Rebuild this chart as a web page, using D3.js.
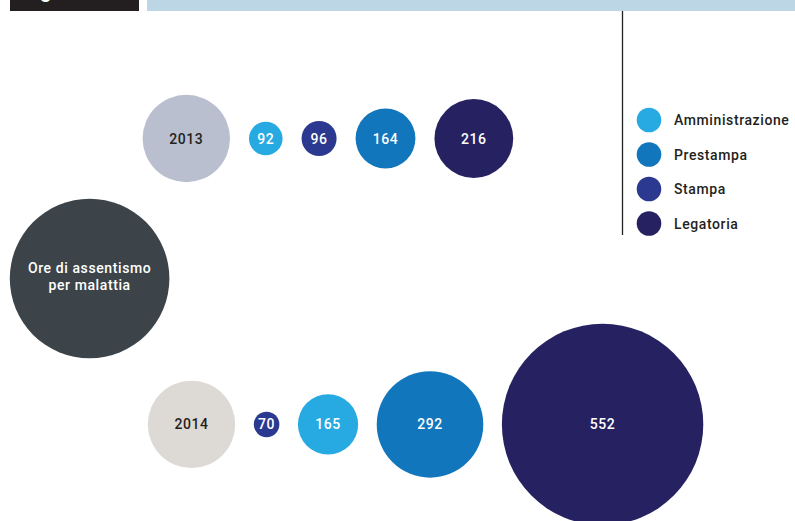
<!DOCTYPE html>
<html>
<head>
<meta charset="utf-8">
<script src="https://cdn.jsdelivr.net/npm/d3@7"></script>
<style>
  body { margin: 0; background: #fff; }
  svg { display: block; font-family: Roboto, "Noto Sans", sans-serif; }
  .lbl { letter-spacing: 0.6px; }
</style>
</head>
<body>
<div class="chart"></div>
<script>
// data
var reparti = ["Amministrazione", "Prestampa", "Stampa", "Legatoria"];
var coloriReparti = ["#27aae1", "#1176bc", "#2b3990", "#262262"];
var anni = ["2013", "2014"];
var ore2013 = [92, 164, 96, 216];   // same order as reparti
var ore2014 = [165, 292, 70, 552];
var titolo = ["Ore di assentismo", "per malattia"];

var svgWidth = 795;
var svgHeight = 521;

var svg = d3.select(".chart")
  .append("svg")
  .attr("width", svgWidth)
  .attr("height", svgHeight);

// header strip (cut off at top of the page)
svg.append("defs").append("clipPath").attr("id", "clipHead")
  .append("rect").attr("x", 10).attr("y", 0).attr("width", 129).attr("height", 11);
svg.append("rect").attr("x", 10).attr("y", 0).attr("width", 129).attr("height", 11).attr("fill", "#231f20");
svg.append("text")
  .attr("clip-path", "url(#clipHead)")
  .attr("x", 24).attr("y", -2)
  .attr("font-size", 20).attr("font-weight", 500)
  .attr("fill", "#fff")
  .text("Figura");
svg.append("rect").attr("x", 147).attr("y", 0).attr("width", svgWidth - 147).attr("height", 11).attr("fill", "#bcd6e6");

// vertical rule next to legend
svg.append("line")
  .attr("x1", 622.5).attr("x2", 622.5)
  .attr("y1", 11).attr("y2", 235)
  .attr("stroke", "#231f20").attr("stroke-width", 1.3);

// radius is linear in the value
var rScale = d3.scaleLinear()
  .domain([0, d3.max(ore2014)])
  .range([0, 100.7]);

var color = d3.scaleOrdinal().domain(reparti).range(coloriReparti);

// big title circle
var title = svg.append("g").attr("transform", "translate(89.6,278.5)");
title.append("circle").attr("r", 79.8).attr("fill", "#3c4449");
title.selectAll("text")
  .data(titolo)
  .enter()
  .append("text")
  .attr("class", "lbl")
  .attr("text-anchor", "middle")
  .attr("y", function(d, i) { return -6 + i * 17; })
  .attr("font-size", 14).attr("font-weight", 500)
  .attr("fill", "#fff")
  .text(function(d) { return d; });

var rows = [
  { anno: anni[0], valori: ore2013, cx: 186.3, cy: 138.5, fill: "#b9bfcf", gap: 19 },
  { anno: anni[1], valori: ore2014, cx: 191.5, cy: 424.4, fill: "#ddd9d4", gap: 18.6 }
];
var yearR = 43.7;

rows.forEach(function(row) {
  var g = svg.append("g").attr("transform", "translate(0," + row.cy + ")");

  g.append("circle").attr("cx", row.cx).attr("r", yearR).attr("fill", row.fill);
  g.append("text")
    .attr("class", "lbl")
    .attr("x", row.cx).attr("dy", "0.36em")
    .attr("text-anchor", "middle")
    .attr("font-size", 14).attr("font-weight", 500)
    .attr("fill", "#231f20")
    .text(row.anno);

  // sort ascending and pack left to right
  var items = reparti.map(function(r, i) { return { reparto: r, value: row.valori[i] }; })
    .sort(function(a, b) { return a.value - b.value; });
  var edge = row.cx + yearR;
  items.forEach(function(d) {
    d.r = rScale(d.value);
    d.x = edge + row.gap + d.r;
    edge = d.x + d.r;
  });

  var elem = g.selectAll("g.bolla")
    .data(items)
    .enter()
    .append("g")
    .attr("class", "bolla")
    .attr("transform", function(d) { return "translate(" + d.x + ",0)"; });
  elem.append("circle")
    .attr("r", function(d) { return d.r; })
    .attr("fill", function(d) { return color(d.reparto); });
  elem.append("text")
    .attr("class", "lbl")
    .attr("dy", "0.36em")
    .attr("text-anchor", "middle")
    .attr("font-size", 14).attr("font-weight", 500)
    .attr("fill", "#fff")
    .text(function(d) { return d.value; });
});

// legend
var legend = svg.append("g").attr("transform", "translate(649,120)");
var item = legend.selectAll("g")
  .data(reparti)
  .enter()
  .append("g")
  .attr("transform", function(d, i) { return "translate(0," + (i * 34.5) + ")"; });
item.append("circle").attr("r", 12.3).attr("fill", function(d) { return color(d); });
item.append("text")
  .attr("class", "lbl")
  .attr("x", 25).attr("dy", "0.36em")
  .attr("font-size", 14).attr("font-weight", 500)
  .attr("fill", "#231f20")
  .text(function(d) { return d; });
</script>
</body>
</html>
